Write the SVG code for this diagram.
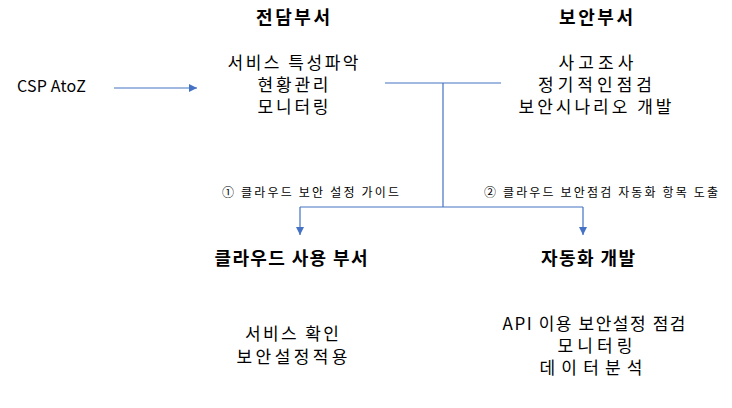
<svg xmlns="http://www.w3.org/2000/svg" width="732" height="408" viewBox="0 0 732 408">
<style>
text{font-family:"Noto Sans CJK KR","Noto Sans",sans-serif;fill:#000;}
.h{font-size:18px;font-weight:bold;text-anchor:middle;}
.b{font-size:17px;text-anchor:middle;}
.l{font-size:12px;}
.c{fill:none;stroke:#4472C4;stroke-width:1.2;}
</style>
<defs>
<marker id="ah" markerUnits="userSpaceOnUse" markerWidth="9" markerHeight="9" refX="8" refY="4" orient="auto">
<path d="M0,0 L8,4 L0,8 z" fill="#4472C4"/>
</marker>
</defs>
<rect width="732" height="408" fill="#fff"/>
<g id="connectors">
<line class="c" x1="114" y1="88" x2="197" y2="88" marker-end="url(#ah)"/>
<line class="c" x1="385" y1="83" x2="501" y2="83"/>
<line class="c" x1="443" y1="83" x2="443" y2="207"/>
<line class="c" x1="300" y1="207" x2="583" y2="207"/>
<line class="c" x1="300" y1="207" x2="300" y2="235" marker-end="url(#ah)"/>
<line class="c" x1="583" y1="207" x2="583" y2="235" marker-end="url(#ah)"/>
<text class="l" x="222" y="197" textLength="177" lengthAdjust="spacing">① 클라우드 보안 설정 가이드</text>
<text class="l" x="484" y="197" textLength="234" lengthAdjust="spacing">② 클라우드 보안점검 자동화 항목 도출</text>
</g>
<g id="csp">
<text x="17" y="92" font-size="16" textLength="69" lengthAdjust="spacing">CSP AtoZ</text>
</g>
<g id="dedicated">
<text class="h" x="293" y="24" textLength="74" lengthAdjust="spacing">전담부서</text>
<text class="b" x="293" y="69" textLength="131" lengthAdjust="spacing">서비스 특성파악</text>
<text class="b" x="293" y="91" textLength="71" lengthAdjust="spacing">현황관리</text>
<text class="b" x="293" y="113" textLength="71" lengthAdjust="spacing">모니터링</text>
</g>
<g id="security">
<text class="h" x="596" y="24" textLength="74" lengthAdjust="spacing">보안부서</text>
<text class="b" x="596" y="69" textLength="75" lengthAdjust="spacing">사고조사</text>
<text class="b" x="595" y="91" textLength="114" lengthAdjust="spacing">정기적인점검</text>
<text class="b" x="595" y="113" textLength="153" lengthAdjust="spacing">보안시나리오 개발</text>
</g>
<g id="cloud-user">
<text class="h" x="291" y="265" textLength="153" lengthAdjust="spacing">클라우드 사용 부서</text>
<text class="b" x="292" y="340" textLength="94" lengthAdjust="spacing">서비스 확인</text>
<text class="b" x="292" y="363" textLength="111" lengthAdjust="spacing">보안설정적용</text>
</g>
<g id="automation">
<text class="h" x="588" y="265" textLength="94" lengthAdjust="spacing">자동화 개발</text>
<text class="b" x="594" y="330" textLength="183" lengthAdjust="spacing">API 이용 보안설정 점검</text>
<text class="b" x="595" y="352" textLength="75" lengthAdjust="spacing">모니터링</text>
<text class="b" x="591" y="374" textLength="103" lengthAdjust="spacing">데이터분석</text>
</g>
</svg>
